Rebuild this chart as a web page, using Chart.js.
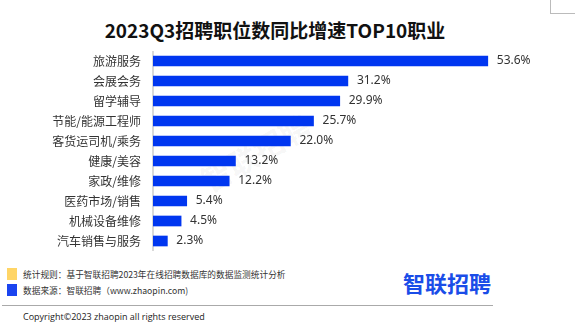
<!DOCTYPE html>
<html>
<head>
<meta charset="utf-8">
<script src="https://cdn.jsdelivr.net/npm/chart.js@4"></script>
<style>
  body { margin: 0; width: 577px; height: 329px; background: #fff; position: relative; overflow: hidden;
         font-family: "Noto Sans CJK SC", "Noto Sans", sans-serif; color: #333; }
  .abs { position: absolute; white-space: nowrap; }
  #title { left: 0; width: 550px; top: 18px; line-height: 24px; text-align: center; font-size: 19px; font-weight: bold; color: #111; }
  #corner { left: 550px; top: -1px; width: 24px; height: 14px; border-left: 1px solid #bbb; border-bottom: 1px solid #bbb; }
  #wrap { left: 0; top: 51px; width: 577px; height: 200px; }
  #mark { left: 195px; top: 130px; font-size: 30px; font-weight: bold; color: rgba(0,0,0,0.05); transform: rotate(-30deg); }
  .sq { left: 7px; width: 10px; height: 12px; }
  .note { left: 23px; font-size: 8.7px; line-height: 14px; color: #333; }
  #logo { left: 403px; top: 266px; font-size: 22px; font-weight: bold; color: #1a4de8; }
  #rule { left: 2px; top: 305px; width: 491px; height: 0; border-top: 1px solid #aaa; }
  #copy { left: 23px; top: 310px; font-size: 9px; line-height: 14px; color: #222; font-family: "Open Sans", "Noto Sans", sans-serif; }
</style>
</head>
<body>
<div id="title" class="abs">2023Q3招聘职位数同比增速TOP10职业</div>
<div id="corner" class="abs"></div>
<div id="mark" class="abs">智联招聘</div>
<div id="wrap" class="abs"><canvas id="chart" width="577" height="200"></canvas></div>
<div class="abs sq" style="top:268px;background:#ffd566;"></div>
<div class="abs sq" style="top:284px;background:#1a44f0;"></div>
<div class="abs note" style="top:268px;">统计规则：基于智联招聘2023年在线招聘数据库的数据监测统计分析</div>
<div class="abs note" style="top:284px;">数据来源：智联招聘（www.zhaopin.com)</div>
<div id="logo" class="abs">智联招聘</div>
<div id="rule" class="abs"></div>
<div id="copy" class="abs">Copyright©2023 zhaopin all rights reserved</div>
<script>
// categories and growth rates (%)
const jobs = ['旅游服务', '会展会务', '留学辅导', '节能/能源工程师', '客货运司机/乘务',
              '健康/美容', '家政/维修', '医药市场/销售', '机械设备维修', '汽车销售与服务'];
const growth = [53.6, 31.2, 29.9, 25.7, 22.0, 13.2, 12.2, 5.4, 4.5, 2.3];

// draw value labels at the end of each bar
const barLabels = {
    id: 'barLabels',
    afterDatasetsDraw(chart) {
        const ctx = chart.ctx;
        const meta = chart.getDatasetMeta(0);
        ctx.save();
        ctx.font = '12px "Noto Sans", "DejaVu Sans", sans-serif';
        ctx.fillStyle = '#333';
        ctx.textBaseline = 'middle';
        meta.data.forEach((bar, i) => {
            ctx.fillText(growth[i].toFixed(1) + '%', bar.x + 9, bar.y);
        });
        ctx.restore();
    }
};

const ctx = document.getElementById('chart').getContext('2d');
new Chart(ctx, {
    type: 'bar',
    data: {
        labels: jobs,
        datasets: [{
            data: growth,
            backgroundColor: '#0036f0',
            barThickness: 10
        }]
    },
    options: {
        indexAxis: 'y',
        responsive: false,
        animation: false,
        layout: { padding: { left: 0, right: 18, top: 0, bottom: 0 } },
        scales: {
            x: { display: false, min: 0, max: 65 },
            y: {
                grid: { display: false, drawTicks: false },
                border: { display: true, color: '#d9d9d9', width: 2 },
                ticks: {
                    color: '#333',
                    padding: 12,
                    autoSkip: false,
                    font: { size: 12, family: '"Noto Sans CJK SC", sans-serif' }
                },
                afterFit(scale) {
                    scale.width = 153;
                    scale.paddingTop = 0;
                    scale.paddingBottom = 0;
                }
            }
        },
        plugins: {
            legend: { display: false },
            tooltip: { enabled: false }
        }
    },
    plugins: [barLabels]
});
</script>
</body>
</html>
